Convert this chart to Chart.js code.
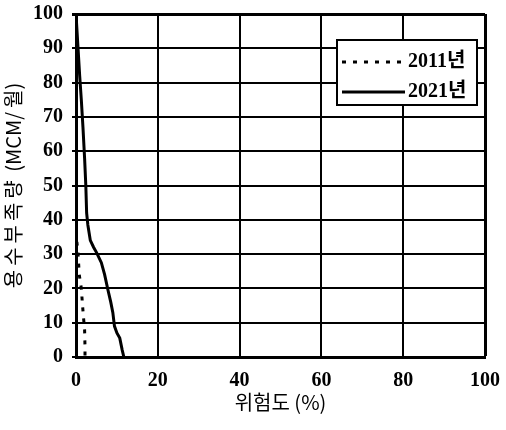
<!DOCTYPE html>
<html>
<head>
<meta charset="utf-8">
<script src="https://cdn.jsdelivr.net/npm/chart.js@4"></script>
<style>
    html, body { margin: 0; padding: 0; background: #fff; }
</style>
</head>
<body>
<canvas id="chart" width="506" height="430"></canvas>
<script>
// Data
const seriesLabels = ['2011년', '2021년'];

// 2011 (dotted)
const risk2011 = [0, 0.1, 0.5, 0.8, 1.3, 1.6, 1.8, 2.1, 2.2, 2.2];
const shortage2011 = [40, 35, 30, 24, 20, 15, 12, 8, 3, 0];

// 2021 (solid)
const risk2021 = [0, 0.5, 0.9, 1.3, 1.7, 2.1, 2.4, 2.6, 2.9, 3.5, 4.3, 5.0, 6.2, 7.0, 7.8, 8.5, 9.0, 9.4, 10.0, 10.7, 11.3, 11.7];
const shortage2021 = [100, 90, 82, 75, 67, 58, 50, 42, 38.5, 34, 32, 30.5, 27.5, 24, 19.6, 16, 13, 9, 7, 5.5, 2, 0];

// Axis ticks
const xTicks = [0, 20, 40, 60, 80, 100];
const yTicks = [0, 10, 20, 30, 40, 50, 60, 70, 80, 90, 100];

const NUM_FONT = "'Liberation Serif', 'Noto Sans CJK KR', serif";
const KR_FONT = "'Noto Sans CJK KR', 'Liberation Serif', sans-serif";

function toPoints(xs, ys) {
    return xs.map((x, i) => ({ x: x, y: ys[i] }));
}

// Legend drawn as a boxed panel inside the plot area (top right)
const boxLegend = {
    id: 'boxLegend',
    afterDraw(chart) {
        const { ctx, chartArea } = chart;
        const w = 140, h = 65;
        const x = chartArea.right - 8 - w;
        const y = chartArea.top + 26;
        ctx.save();
        ctx.fillStyle = '#fff';
        ctx.fillRect(x, y, w, h);
        ctx.lineWidth = 2;
        ctx.strokeStyle = '#000';
        ctx.strokeRect(x, y, w, h);
        chart.data.datasets.forEach((ds, i) => {
            const cy = y + 22 + i * 30;
            ctx.beginPath();
            ctx.setLineDash(ds.borderDash || []);
            ctx.lineWidth = ds.borderWidth;
            ctx.strokeStyle = ds.borderColor;
            ctx.moveTo(x + 5, cy);
            ctx.lineTo(x + 68, cy);
            ctx.stroke();
            ctx.setLineDash([]);
            ctx.fillStyle = '#000';
            ctx.font = "bold 20px " + NUM_FONT;
            ctx.textBaseline = 'middle';
            ctx.textAlign = 'left';
            ctx.fillText(ds.label, x + 71, cy);
        });
        ctx.restore();
    }
};

const edgeWidth = (c) => (c.tick && c.tick.value === 100) ? 3 : 2;

new Chart(document.getElementById('chart').getContext('2d'), {
    type: 'scatter',
    data: {
        datasets: [{
            label: seriesLabels[0],
            data: toPoints(risk2011, shortage2011),
            showLine: true,
            borderColor: '#000',
            borderWidth: 3,
            borderDash: [4, 7],
            pointRadius: 0,
            tension: 0
        }, {
            label: seriesLabels[1],
            data: toPoints(risk2021, shortage2021),
            showLine: true,
            borderColor: '#000',
            borderWidth: 3,
            pointRadius: 0,
            tension: 0
        }]
    },
    options: {
        responsive: false,
        animation: false,
        layout: { padding: { top: 14, right: 21, left: 0, bottom: 0 } },
        plugins: {
            legend: { display: false },
            tooltip: { enabled: false }
        },
        scales: {
            x: {
                type: 'linear',
                min: 0,
                max: 100,
                afterBuildTicks: (scale) => { scale.ticks = xTicks.map(v => ({ value: v })); },
                afterFit: (scale) => {
                    scale.height = 73;
                    scale.paddingLeft = 0;
                    scale.paddingRight = 0;
                },
                border: { color: '#000', width: 3 },
                grid: { color: '#000', lineWidth: edgeWidth, drawTicks: false },
                ticks: {
                    color: '#000',
                    padding: 12,
                    maxRotation: 0,
                    font: { family: NUM_FONT, size: 20, weight: 'bold' }
                },
                title: {
                    display: true,
                    text: '위험도 (%)',
                    color: '#000',
                    padding: { top: 0, bottom: 16 },
                    font: { family: KR_FONT, size: 20 }
                }
            },
            y: {
                type: 'linear',
                min: 0,
                max: 100,
                afterBuildTicks: (scale) => { scale.ticks = yTicks.map(v => ({ value: v })); },
                afterFit: (scale) => {
                    scale.width = 76;
                    scale.paddingTop = 0;
                    scale.paddingBottom = 0;
                },
                border: { color: '#000', width: 3 },
                grid: { color: '#000', lineWidth: edgeWidth, tickLength: 4 },
                ticks: {
                    color: '#000',
                    padding: 9,
                    font: { family: NUM_FONT, size: 20, weight: 'bold' }
                },
                title: {
                    display: true,
                    text: '용\u2009수\u2009부\u2009족\u2009량 \u2009(MCM/\u2009월)',
                    color: '#000',
                    padding: { top: 1, bottom: 0 },
                    font: { family: KR_FONT, size: 20 }
                }
            }
        }
    },
    plugins: [boxLegend]
});
</script>
</body>
</html>
